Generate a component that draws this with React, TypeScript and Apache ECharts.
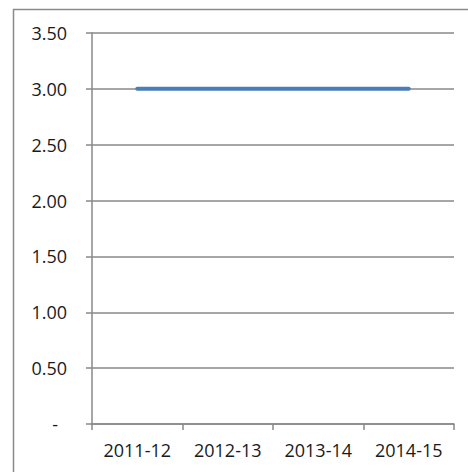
import React, { useEffect, useRef } from "react";
import * as echarts from "echarts";

const categories = ["2011-12", "2012-13", "2013-14", "2014-15"];
const values = [3.0, 3.0, 3.0, 3.0];
const yMin = 0;
const yMax = 3.5;
const yInterval = 0.5;

export default function App() {
  const ref = useRef<HTMLDivElement>(null);
  useEffect(() => {
    if (!ref.current) return;
    const chart = echarts.init(ref.current, null, { renderer: "svg" });
    const gray = "#898989";
    const font = "'Open Sans', sans-serif";
    chart.setOption({
      animation: false,
      backgroundColor: "#ffffff",
      graphic: [
        {
          type: "rect",
          shape: { x: 13.5, y: 9.5, width: 600, height: 600 },
          style: { fill: "none", stroke: "#8a8a8a", lineWidth: 1.5 },
          silent: true,
        },
      ],
      grid: { left: 92, top: 33, right: 14, bottom: 48, containLabel: false },
      xAxis: {
        type: "category",
        data: categories,
        boundaryGap: true,
        axisLine: { show: true, lineStyle: { color: gray, width: 1.5 } },
        axisTick: { show: true, length: 6, lineStyle: { color: gray, width: 1.5 } },
        axisLabel: { color: "#1a1a1a", fontFamily: font, fontSize: 18, margin: 17 },
        splitLine: { show: false },
      },
      yAxis: {
        type: "value",
        min: yMin,
        max: yMax,
        interval: yInterval,
        axisLine: { show: true, lineStyle: { color: gray, width: 1.5 } },
        axisTick: { show: true, length: 6, lineStyle: { color: gray, width: 1.5 } },
        splitLine: { show: true, lineStyle: { color: gray, width: 1.5 } },
        axisLabel: {
          color: "#1a1a1a",
          fontFamily: font,
          fontSize: 18,
          margin: 25,
          formatter: (v: number) => (v === 0 ? "{d|-}" : v.toFixed(2)),
          rich: {
            d: { fontFamily: font, fontSize: 18, color: "#1a1a1a", padding: [0, 9, 0, 0] },
          },
        },
      },
      series: [
        {
          type: "line",
          data: values,
          symbol: "none",
          lineStyle: { color: "#4a7ebb", width: 4, cap: "round" },
        },
      ],
    });
    return () => chart.dispose();
  }, []);
  return (
    <div
      ref={ref}
      style={{ position: "fixed", left: 0, top: 0, width: 468, height: 472 }}
    />
  );
}
